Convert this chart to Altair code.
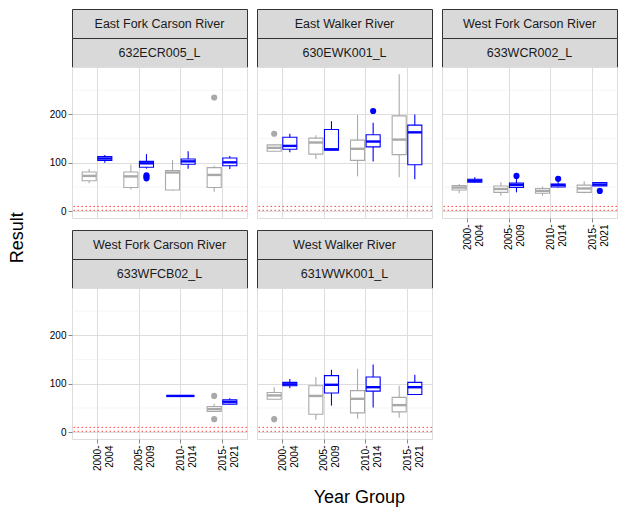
import json
import altair as alt
import pandas as pd

FONT = "Liberation Sans"

# ---------------- data ----------------
rivers = ["East Fork Carson River", "East Walker River", "West Fork Carson River",
          "West Fork Carson River", "West Walker River"]
stations = ["632ECR005_L", "630EWK001_L", "633WCR002_L", "633WFCB02_L", "631WWK001_L"]
year_groups = ["2000-2004", "2005-2009", "2010-2014", "2015-2021"]
series_names = ["Series A", "Series B"]
series_colors = ["#A9A9A9", "#0000FF"]
ref_lines = [10, 2]
y_ticks = [0, 100, 200]
y_minor = [50, 150, 250]

E, W_, C, F, V = stations
G0, G1, G2, G3 = year_groups
A, B = series_names

box_station = [E, E, E, E, E, E, E, E,
               W_, W_, W_, W_, W_, W_, W_, W_,
               C, C, C, C, C, C, C, C,
               F, F, F,
               V, V, V, V, V, V, V, V]
box_group = [G0, G0, G1, G1, G2, G2, G3, G3,
             G0, G0, G1, G1, G2, G2, G3, G3,
             G0, G0, G1, G1, G2, G2, G3, G3,
             G2, G3, G3,
             G0, G0, G1, G1, G2, G2, G3, G3]
box_series = [A, B, A, B, A, B, A, B,
              A, B, A, B, A, B, A, B,
              A, B, A, B, A, B, A, B,
              B, A, B,
              A, B, A, B, A, B, A, B]
box_lo = [58, 100, 45, 88, 42, 88, 40, 87,
          123, 122, 108, 126, 72, 103, 70, 66,
          37, 59, 32, 39, 32, 49, 37, 52,
          75, 42, 57,
          68, 91, 26, 55, 28, 51, 30, 78]
box_q1 = [63, 105, 49, 91, 44, 97, 49, 94,
          124, 128, 118, 126, 105, 133, 117, 96,
          44, 60, 39, 49, 37, 50, 39, 52,
          75, 43, 58,
          68, 96, 37, 81, 40, 85, 42, 78]
box_med = [73, 109, 72, 99, 80, 103, 75, 101,
           131, 135, 142, 128, 129, 144, 148, 163,
           49, 63, 46, 54, 42, 54, 47, 55,
           75, 48, 63,
           76, 99, 75, 98, 69, 93, 56, 93]
box_q3 = [81, 113, 81, 103, 84, 108, 90, 110,
          137, 153, 151, 169, 147, 158, 197, 178,
          53, 66, 52, 58, 47, 56, 54, 59,
          75, 53, 67,
          82, 103, 96, 117, 86, 114, 72, 103]
box_hi = [87, 116, 96, 118, 106, 124, 94, 114,
          139, 160, 157, 186, 199, 183, 283, 200,
          56, 70, 60, 67, 51, 60, 62, 60,
          75, 59, 70,
          93, 110, 114, 129, 131, 140, 96, 119]

out_station = [E, E, E, E, W_, W_, C, C, C, F, F, V]
out_group = [G1, G1, G1, G3, G0, G2, G1, G2, G3, G3, G3, G0]
out_series = [B, B, B, A, A, B, B, B, B, A, A, A]
out_value = [68, 71, 74, 235, 160, 207, 73, 67, 42, 75, 27, 27]

# ---------------- derived table ----------------
DODGE = 0.75
boxes = pd.DataFrame(dict(station=box_station, group=box_group, series=box_series,
                          lo=box_lo, q1=box_q1, med=box_med, q3=box_q3, hi=box_hi))
boxes["gi"] = boxes["group"].map({g: i for i, g in enumerate(year_groups)})
boxes["si"] = boxes["series"].map({s: i for i, s in enumerate(series_names)})
boxes = boxes.sort_values(["station", "gi", "si"]).reset_index(drop=True)
n = boxes.groupby(["station", "group"])["series"].transform("count")
slot = boxes.groupby(["station", "group"]).cumcount()
w = DODGE / n
boxes["center"] = boxes["gi"] - DODGE / 2 + w * (slot + 0.5)
boxes["left"] = boxes["center"] - w * 0.45
boxes["right"] = boxes["center"] + w * 0.45

outs = pd.DataFrame(dict(station=out_station, group=out_group, series=out_series, value=out_value))
outs = outs.merge(boxes[["station", "group", "series", "center"]], on=["station", "group", "series"])

ref_df = pd.DataFrame({"v": ref_lines})
minor_df = pd.DataFrame({"v": y_minor})

# ---------------- layout ----------------
PW = 175
PH = 151
SH = 29

label_lines = [[g[:5], g[5:]] for g in year_groups]
label_expr = json.dumps(label_lines) + "[datum.value]"

xs = alt.Scale(domain=[-0.6, 3.6], nice=False, zero=False)
ys = alt.Scale(domain=[-14, 298], nice=False, zero=False)
col_scale = alt.Scale(domain=series_names, range=series_colors)


def plot(idx, show_x, show_y):
    st = stations[idx]
    xaxis = alt.Axis(values=[0, 1, 2, 3], labelExpr=label_expr, labelAngle=270, title=None,
                     grid=True, domain=False, ticks=show_x, labels=show_x,
                     tickSize=4, labelPadding=2, labelAlign="right", labelBaseline="middle",
                     labelLineHeight=12)
    yaxis = alt.Axis(values=y_ticks, title=None, grid=True, domain=False,
                     ticks=show_y, labels=show_y, tickSize=4, labelPadding=2)
    X = lambda f: alt.X(f, type="quantitative", scale=xs, axis=xaxis)
    Y = lambda f: alt.Y(f, type="quantitative", scale=ys, axis=yaxis)
    stroke = alt.Color("series:N", scale=col_scale, legend=None)

    bx = alt.Chart(boxes).transform_filter(alt.datum.station == st)
    minor = alt.Chart(minor_df).mark_rule(color="#EBEBEB", strokeWidth=0.5).encode(y=Y("v"))
    refs = alt.Chart(ref_df).mark_rule(color="#FF0000", strokeWidth=1, strokeDash=[1.5, 2.5],
                                       opacity=0.75).encode(y=Y("v"))
    whisk = bx.mark_rule(strokeWidth=1.1).encode(x=X("center"), y=Y("lo"), y2="hi", color=stroke)
    rect = bx.mark_rect(fill="white", strokeWidth=1.1).encode(
        x=X("left"), x2="right", y=Y("q1"), y2="q3",
        stroke=alt.Stroke("series:N", scale=col_scale, legend=None))
    med = bx.mark_rule(strokeWidth=2.4).encode(x=X("left"), x2="right", y=Y("med"), color=stroke)
    pts = alt.Chart(outs).transform_filter(alt.datum.station == st).mark_circle(
        size=38, opacity=1).encode(x=X("center"), y=Y("value"), color=stroke)
    return alt.layer(minor, whisk, rect, med, refs, pts).properties(width=PW, height=PH)


def strip(text):
    return alt.Chart(pd.DataFrame({"t": [text]})).mark_text(
        fontSize=12.5, color="#1A1A1A", font=FONT).encode(
        x=alt.value(PW / 2), y=alt.value(SH / 2 + 0.5), text="t:N").properties(
        width=PW, height=SH,
        view=alt.ViewBackground(fill="#D9D9D9", stroke="#333333", strokeWidth=1))


def panel(idx, show_x, show_y):
    return alt.vconcat(strip(rivers[idx]), strip(stations[idx]), plot(idx, show_x, show_y),
                       spacing=0, bounds="flush")


col1 = alt.vconcat(panel(0, False, True), panel(3, True, True), spacing=10)
col2 = alt.vconcat(panel(1, False, False), panel(4, True, False), spacing=10)
col3 = panel(2, True, False)

inner = alt.hconcat(col1, col2, col3, spacing=8).properties(
    title=alt.TitleParams("Year Group", orient="bottom", anchor="middle", fontSize=18,
                          font=FONT, fontWeight="normal", color="#000000", offset=18, dx=26))

chart = alt.vconcat(inner).properties(
    title=alt.TitleParams("Result", orient="left", anchor="middle", fontSize=18,
                          font=FONT, fontWeight="normal", color="#000000", offset=22, dx=20),
    padding=0
).configure_view(stroke="#333333", strokeWidth=1, fill="white").configure_axis(
    labelFont=FONT, labelFontSize=13, labelColor="#4D4D4D", tickColor="#333333",
    gridColor="#EBEBEB", gridWidth=1
).configure(font=FONT)

chart.save("out.html", embed_options={"renderer": "svg", "actions": False})
